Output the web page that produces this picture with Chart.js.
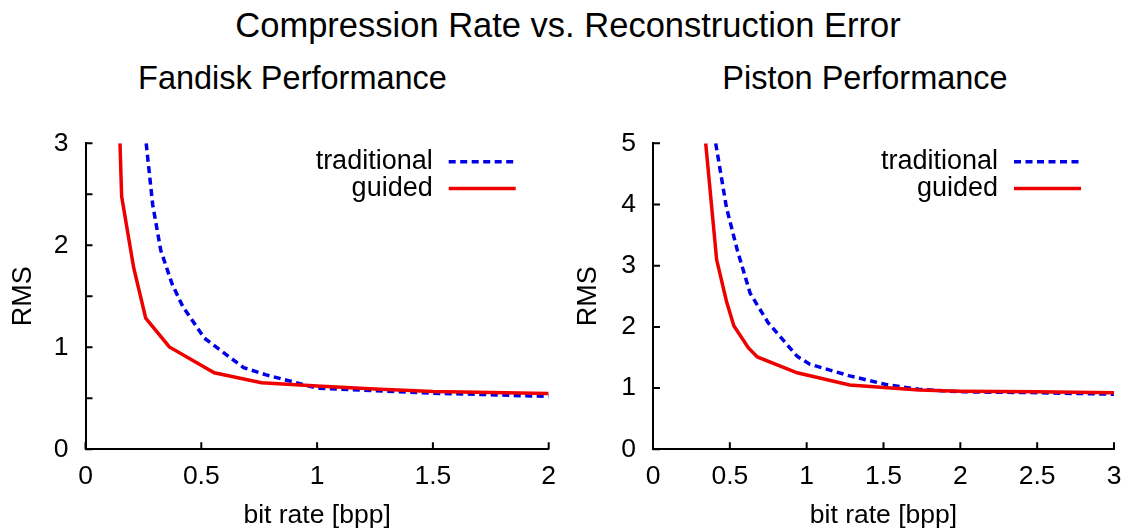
<!DOCTYPE html>
<html>
<head>
<meta charset="utf-8">
<title>Compression Rate vs. Reconstruction Error</title>
<script src="https://cdn.jsdelivr.net/npm/chart.js@4"></script>
<style>
  body { margin: 0; background: #fff; font-family: "Liberation Sans", Arial, Helvetica, sans-serif; }
  #page { position: relative; width: 1127px; height: 532px; overflow: hidden; }
  .ttl { position: absolute; width: 700px; text-align: center; line-height: 1; color: #000; white-space: nowrap; }
  .box { position: absolute; top: 0; height: 532px; }
</style>
</head>
<body>
<div id="page">
  <div class="ttl" style="left:218px; top:8px; font-size:34.5px;">Compression Rate vs. Reconstruction Error</div>
  <div class="ttl" style="left:-57.5px; top:62px; font-size:32.5px;">Fandisk Performance</div>
  <div class="ttl" style="left:515px; top:62px; font-size:32.5px;">Piston Performance</div>
  <div class="box" style="left:0; width:563px;"><canvas id="fandisk"></canvas></div>
  <div class="box" style="left:563px; width:564px;"><canvas id="piston"></canvas></div>
</div>
<script>
// Fandisk (left plot)
var fandiskTradRate = [0.262, 0.29, 0.325, 0.374, 0.42, 0.513, 0.683, 0.78, 1.0, 1.25, 1.5, 1.75, 2.0];
var fandiskTradRms  = [3.0, 2.4, 1.95, 1.62, 1.40, 1.09, 0.80, 0.73, 0.60, 0.575, 0.55, 0.535, 0.518];
var fandiskGuidRate = [0.149, 0.156, 0.208, 0.26, 0.362, 0.556, 0.76, 1.0, 1.25, 1.5, 1.75, 2.0];
var fandiskGuidRms  = [3.0, 2.48, 1.78, 1.285, 1.004, 0.75, 0.652, 0.62, 0.59, 0.567, 0.558, 0.548];

// Piston (right plot)
var pistonTradRate = [0.408, 0.478, 0.549, 0.632, 0.749, 0.938, 1.02, 1.28, 1.515, 1.73, 2.0, 2.5, 3.0];
var pistonTradRms  = [5.0, 3.95, 3.25, 2.55, 2.07, 1.52, 1.39, 1.20, 1.06, 0.98, 0.94, 0.925, 0.90];
var pistonGuidRate = [0.343, 0.414, 0.478, 0.526, 0.62, 0.679, 0.938, 1.28, 1.73, 2.0, 2.5, 3.0];
var pistonGuidRms  = [5.0, 3.10, 2.42, 2.02, 1.66, 1.51, 1.25, 1.05, 0.97, 0.95, 0.94, 0.925];

var seriesNames = ['traditional', 'guided'];

Chart.defaults.font.family = '"Liberation Sans", Arial, Helvetica, sans-serif';
Chart.defaults.color = '#000';

function pts(xs, ys) {
    return xs.map(function (x, i) { return {x: x, y: ys[i]}; });
}

// plain numbers like gnuplot: 0, 0.5, 1, 1.5 ...
function plainNum(v) {
    return String(Math.round(v * 100) / 100);
}

// gnuplot-like key: label on the left, line sample on the right
var gnuKey = {
    id: 'gnuKey',
    afterDraw: function (chart) {
        var ctx = chart.ctx, a = chart.chartArea;
        ctx.save();
        ctx.font = '27px "Liberation Sans", Arial, sans-serif';
        ctx.textAlign = 'right';
        ctx.textBaseline = 'alphabetic';
        chart.data.datasets.forEach(function (ds, i) {
            var y = a.top + 18.5 + i * 26.7;
            ctx.fillStyle = '#000';
            ctx.fillText(ds.label, a.right - 116, y + 7);
            ctx.strokeStyle = ds.borderColor;
            ctx.lineWidth = ds.borderWidth;
            ctx.setLineDash(ds.borderDash || []);
            ctx.beginPath();
            ctx.moveTo(a.right - 100, y);
            ctx.lineTo(a.right - 33, y);
            ctx.stroke();
        });
        ctx.restore();
    }
};

// tick marks pointing into the plot
var innerTicks = {
    id: 'innerTicks',
    afterDraw: function (chart) {
        var ctx = chart.ctx, a = chart.chartArea;
        var xs = chart.scales.x, ys = chart.scales.y;
        ctx.save();
        ctx.strokeStyle = '#000';
        ctx.lineWidth = 2;
        ctx.beginPath();
        xs.ticks.forEach(function (t) {
            var px = xs.getPixelForValue(t.value);
            ctx.moveTo(px, a.bottom);
            ctx.lineTo(px, a.bottom - 7);
        });
        ys.ticks.forEach(function (t) {
            var py = ys.getPixelForValue(t.value);
            ctx.moveTo(a.left, py);
            ctx.lineTo(a.left + 7, py);
        });
        ctx.stroke();
        ctx.restore();
    }
};

function makePlot(id, trad, guid, xMax, yMax, yStep, yWidth, padRight, rmsPad) {
    var tickFont = {size: 26.5};
    return new Chart(document.getElementById(id), {
        type: 'line',
        data: {
            datasets: [{
                label: seriesNames[0],
                data: trad,
                borderColor: '#0000e6',
                borderWidth: 3.5,
                borderDash: [7, 4.5],
                pointRadius: 0,
                tension: 0,
                order: 2
            }, {
                label: seriesNames[1],
                data: guid,
                borderColor: '#ee0000',
                borderWidth: 3.5,
                pointRadius: 0,
                tension: 0,
                order: 1
            }]
        },
        options: {
            responsive: true,
            maintainAspectRatio: false,
            animation: false,
            layout: {padding: {left: 0, right: padRight, top: 143.3, bottom: 0}},
            plugins: {
                legend: {display: false},
                tooltip: {enabled: false}
            },
            scales: {
                x: {
                    type: 'linear',
                    min: 0,
                    max: xMax,
                    afterFit: function (s) {
                        s.height = 82.7;
                        s.paddingLeft = 0;
                        s.paddingRight = 0;
                    },
                    ticks: {stepSize: 0.5, autoSkip: false, maxRotation: 0, padding: 11, font: tickFont, color: '#000', callback: plainNum},
                    grid: {display: false, drawTicks: false},
                    border: {color: '#000', width: 2},
                    title: {display: true, text: 'bit rate [bpp]', font: {size: 26.5}, color: '#000', padding: {top: 0, bottom: 0}}
                },
                y: {
                    min: 0,
                    max: yMax,
                    afterFit: function (s) {
                        s.width = yWidth;
                        s.paddingTop = 0;
                        s.paddingBottom = 0;
                    },
                    ticks: {
                        stepSize: yStep,
                        autoSkip: false,
                        padding: 17,
                        font: tickFont,
                        color: '#000',
                        callback: function (v) { return Number.isInteger(v) ? plainNum(v) : ''; }
                    },
                    grid: {display: false, drawTicks: false},
                    border: {color: '#000', width: 2},
                    title: {display: true, text: 'RMS', font: {size: 27}, color: '#000', padding: {top: rmsPad, bottom: 0}}
                }
            }
        },
        plugins: [innerTicks, gnuKey]
    });
}

makePlot('fandisk', pts(fandiskTradRate, fandiskTradRms), pts(fandiskGuidRate, fandiskGuidRms), 2, 3, 0.5, 85.5, 14.3, 7);
makePlot('piston', pts(pistonTradRate, pistonTradRms), pts(pistonGuidRate, pistonGuidRms), 3, 5, 1, 90, 13, 9);
</script>
</body>
</html>
